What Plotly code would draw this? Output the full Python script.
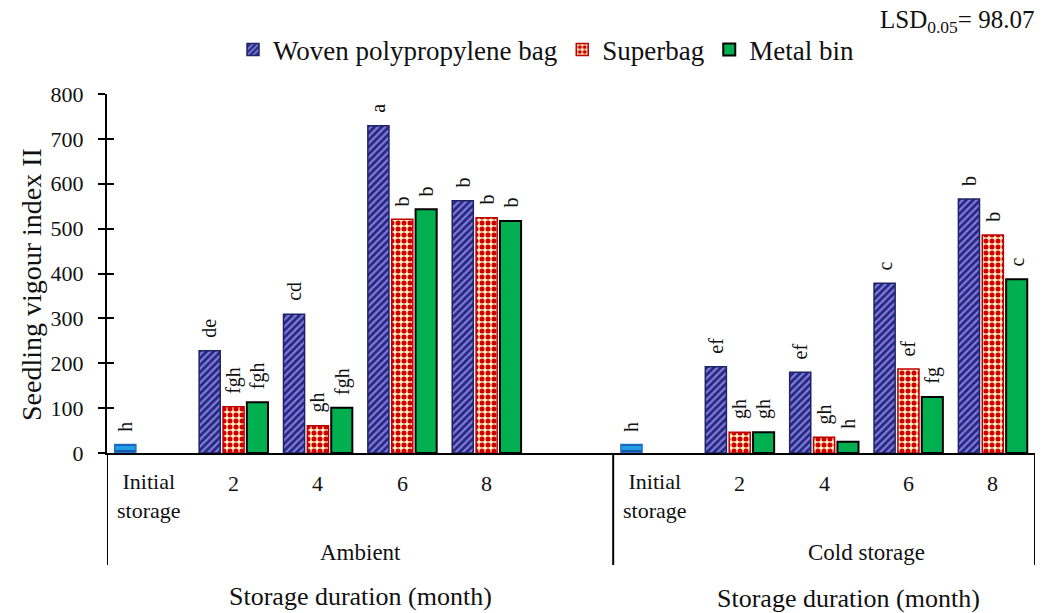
import plotly.graph_objects as go

# ---- data ----
groups = ["Ambient", "Cold storage"]
durations = ["2", "4", "6", "8"]
initial_label = "Initial<br>storage"

initial_value = [19, 19]            # ambient, cold storage
initial_sig = ["h", "h"]

woven_ambient = [228, 309, 729, 562]
superbag_ambient = [103, 61, 521, 524]
metal_ambient = [113, 101, 543, 517]

woven_cold = [192, 180, 378, 566]
superbag_cold = [46, 35, 187, 486]
metal_cold = [46, 25, 125, 387]

woven_ambient_sig = ["de", "cd", "a", "b"]
superbag_ambient_sig = ["fgh", "gh", "b", "b"]
metal_ambient_sig = ["fgh", "fgh", "b", "b"]

woven_cold_sig = ["ef", "ef", "c", "b"]
superbag_cold_sig = ["gh", "gh", "ef", "b"]
metal_cold_sig = ["gh", "h", "fg", "c"]

lsd_value = "98.07"
y_ticks = [0, 100, 200, 300, 400, 500, 600, 700, 800]

# ---- layout helpers ----
FONT = "Liberation Serif, Times New Roman, serif"
TXT = "#111111"
W = 1043
H = 613
ML, MR, MT, MB = 107, 8, 94, 160
PW = W - ML - MR
PH = H - MT - MB

# slot positions: ambient initial=0, months 1..4, empty 5, cold initial=6, months 7..10
amb_slots = [1, 2, 3, 4]
cold_slots = [7, 8, 9, 10]
initial_slots = [0, 6]
month_slots = amb_slots + cold_slots

bar_w = 0.25
pitch = 0.283
series_offset = [-pitch, 0.0, pitch]


def px_x(p):
    return (p - ML) / PW


def px_y(p):
    return (MT + PH - p) / PH


fig = go.Figure()

series = [
    ("Woven polypropylene bag", woven_ambient + woven_cold,
     dict(color="#232a7a", line=dict(color="#1c2466", width=1.5),
          pattern=dict(shape="/", fgcolor="#8579e0", bgcolor="#232a7a",
                       size=5, solidity=0.45, fillmode="replace"))),
    ("Superbag", superbag_ambient + superbag_cold,
     dict(color="#d10000", line=dict(color="#c00000", width=1.5),
          pattern=dict(shape=".", fgcolor="#d10000", bgcolor="#f7efc6",
                       size=6, solidity=0.55, fillmode="replace"))),
    ("Metal bin", metal_ambient + metal_cold,
     dict(color="#00b050", line=dict(color="#000000", width=2))),
]

for k, (name, vals, marker) in enumerate(series):
    fig.add_trace(go.Bar(
        name=name, x=month_slots, y=vals,
        width=bar_w, offset=series_offset[k] - bar_w / 2,
        marker=marker, showlegend=True,
    ))

fig.add_trace(go.Bar(
    name="Initial storage", x=initial_slots, y=initial_value,
    width=bar_w, offset=series_offset[0] - bar_w / 2,
    marker=dict(color="#1e9fe6", line=dict(color="#1f6fc4", width=1.5),
                pattern=dict(shape="-", fgcolor="#1c3f9a", bgcolor="#1e9fe6",
                             size=6, solidity=0.25, fillmode="replace")),
    showlegend=False,
))

# empty trace on the mirrored y axis (inner half of the crossing ticks)
fig.add_trace(go.Scatter(x=[], y=[], yaxis="y2", showlegend=False))

annotations = []

# significance letters above bars
sig_sets = [
    (initial_slots, initial_value, initial_sig, series_offset[0]),
    (month_slots, woven_ambient + woven_cold, woven_ambient_sig + woven_cold_sig, series_offset[0]),
    (month_slots, superbag_ambient + superbag_cold, superbag_ambient_sig + superbag_cold_sig, series_offset[1]),
    (month_slots, metal_ambient + metal_cold, metal_ambient_sig + metal_cold_sig, series_offset[2]),
]
for slots, vals, sigs, off in sig_sets:
    for s, v, t in zip(slots, vals, sigs):
        annotations.append(dict(
            x=s + off, y=v, xref="x", yref="y", text=t, showarrow=False,
            textangle=-90, xanchor="center", yanchor="bottom", yshift=11,
            font=dict(family=FONT, size=20, color=TXT),
        ))

# category labels
cat_font = dict(family=FONT, size=22, color=TXT)
for s in initial_slots:
    annotations.append(dict(x=s, y=px_y(496), xref="x", yref="paper",
                            text=initial_label, showarrow=False,
                            xanchor="center", yanchor="middle", font=cat_font))
for s, d in zip(amb_slots + cold_slots, durations + durations):
    annotations.append(dict(x=s, y=px_y(483), xref="x", yref="paper",
                            text=d, showarrow=False,
                            xanchor="center", yanchor="middle", font=cat_font))

# group labels
annotations.append(dict(x=2.5, y=px_y(552), xref="x", yref="paper", text=groups[0],
                        showarrow=False, xanchor="center", yanchor="middle",
                        font=dict(family=FONT, size=23, color=TXT)))
annotations.append(dict(x=8.5, y=px_y(552), xref="x", yref="paper", text=groups[1],
                        showarrow=False, xanchor="center", yanchor="middle",
                        font=dict(family=FONT, size=23, color=TXT)))

# axis titles
annotations.append(dict(x=px_x(360), y=px_y(596), xref="paper", yref="paper",
                        text="Storage duration (month)", showarrow=False,
                        xanchor="center", yanchor="middle",
                        font=dict(family=FONT, size=26, color=TXT)))
annotations.append(dict(x=px_x(848), y=px_y(598), xref="paper", yref="paper",
                        text="Storage duration (month)", showarrow=False,
                        xanchor="center", yanchor="middle",
                        font=dict(family=FONT, size=26, color=TXT)))
annotations.append(dict(x=px_x(31), y=px_y(285), xref="paper", yref="paper",
                        text="Seedling vigour index II", showarrow=False,
                        textangle=-90, xanchor="center", yanchor="middle",
                        font=dict(family=FONT, size=28, color=TXT)))

# LSD note
annotations.append(dict(x=px_x(1036), y=px_y(22), xref="paper", yref="paper",
                        text="LSD<sub>0.05</sub>= " + lsd_value, showarrow=False,
                        xanchor="right", yanchor="middle",
                        font=dict(family=FONT, size=25, color=TXT)))

# divider lines of the two-level category axis
shapes = []
for xv in [-0.5, 5.5, 10.5]:
    shapes.append(dict(type="line", xref="x", yref="paper",
                       x0=xv, x1=xv, y0=0, y1=px_y(565),
                       line=dict(color="black", width=2)))

fig.update_layout(
    width=W, height=H,
    margin=dict(l=ML, r=MR, t=MT, b=MB),
    paper_bgcolor="white", plot_bgcolor="white",
    barmode="overlay",
    font=dict(family=FONT, color=TXT),
    showlegend=True,
    legend=dict(orientation="h", xref="container", yref="container",
                x=233 / W, y=1 - 50 / H, xanchor="left", yanchor="middle",
                font=dict(family=FONT, size=27, color=TXT),
                bgcolor="rgba(0,0,0,0)", itemclick=False),
    xaxis=dict(range=[-0.5, 10.5], showline=True, linecolor="black", linewidth=2,
               showticklabels=False, ticks="", showgrid=False, zeroline=False,
               fixedrange=True),
    yaxis=dict(range=[0, 800], tickvals=y_ticks, showline=True, linecolor="black",
               linewidth=2, ticks="outside", ticklen=7, tickwidth=2, tickcolor="black",
               ticklabelstandoff=10, showgrid=False, zeroline=False,
               tickfont=dict(family=FONT, size=22, color=TXT)),
    yaxis2=dict(range=[0, 800], tickvals=y_ticks, overlaying="y", side="left",
                showline=False, ticks="inside", ticklen=7, tickwidth=2,
                tickcolor="black", showticklabels=False, showgrid=False,
                zeroline=False),
    annotations=annotations,
    shapes=shapes,
)

fig.write_html("out.html")
